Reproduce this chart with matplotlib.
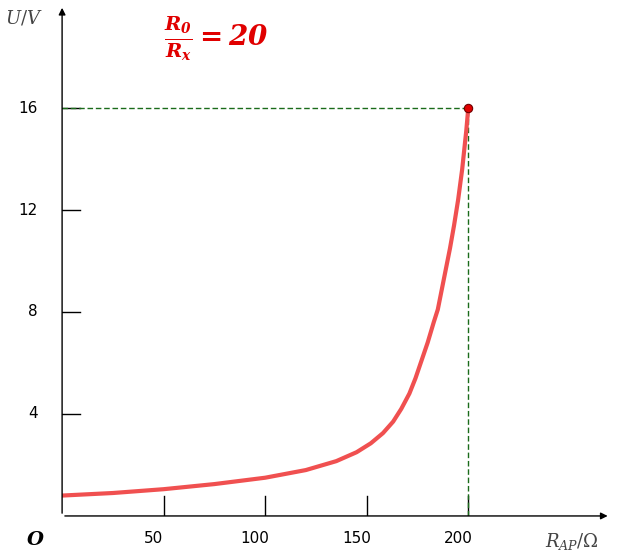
import matplotlib.pyplot as plt

r_ap = [0, 25, 50, 75, 100, 120, 135, 145, 152, 158, 163, 167, 171, 174, 177, 180, 183, 185,
        187, 189, 191, 193, 195, 197, 199, 200]
u_v = [0.8, 0.9, 1.05, 1.25, 1.5, 1.8, 2.15, 2.5, 2.85, 3.25, 3.7, 4.2, 4.8, 5.4, 6.1, 6.8, 7.6, 8.1,
       8.9, 9.7, 10.5, 11.4, 12.4, 13.6, 15.1, 16]
x_ticks = [50, 100, 150, 200]
y_ticks = [4, 8, 12, 16]

plt.rcParams["mathtext.fontset"] = "custom"
plt.rcParams["mathtext.bf"] = "DejaVu Serif:italic:bold"
plt.rcParams["mathtext.it"] = "DejaVu Serif:italic"
plt.rcParams["mathtext.rm"] = "DejaVu Serif"

fig = plt.figure(figsize=(6.21, 5.59), dpi=100)
ax = fig.add_axes([0.1, 0.077, 0.883, 0.914])
ax.set_xlim(0, 270)
ax.set_ylim(0, 20.04)
ax.axis("off")

# axes with arrows
ax.annotate("", xy=(270, 0), xytext=(0, 0),
            arrowprops=dict(arrowstyle="-|>", color="black", lw=1), annotation_clip=False)
ax.annotate("", xy=(0, 20.04), xytext=(0, 0),
            arrowprops=dict(arrowstyle="-|>", color="black", lw=1), annotation_clip=False)

for t in x_ticks:
    ax.plot([t, t], [0, 0.8], color="black", lw=1)
    ax.text(t - 5, -0.6, str(t), ha="center", va="top", fontsize=11)
for t in y_ticks:
    ax.plot([0, 9], [t, t], color="black", lw=1)
    ax.text(-12, t, str(t), ha="right", va="center", fontsize=11)

ax.text(-9, -0.6, "O", ha="right", va="top", fontsize=14, fontweight="bold",
        fontstyle="italic", family="DejaVu Serif")
ax.text(238, -0.6, r"$R_{AP}/\Omega$", ha="left", va="top", fontsize=13, color="#444444")
ax.text(-28, 19.9, r"$U/V$", ha="left", va="top", fontsize=13, color="#444444")
ax.text(50, 18.7, r"$\mathbf{\frac{R_0}{R_x}=20}$", ha="left", va="center",
        fontsize=20, color="#e00000")

ax.plot([0, 200], [16, 16], color="#1a6b1a", lw=1, ls=(0, (4, 2)))
ax.plot([200, 200], [0, 16], color="#1a6b1a", lw=1, ls=(0, (4, 2)))
ax.plot(r_ap, u_v, color="#f05050", lw=3, solid_capstyle="round", solid_joinstyle="round")
ax.plot([200], [16], "o", color="#e00000", ms=6, mec="#700000", mew=0.8, zorder=5)

fig.savefig("out.png")
